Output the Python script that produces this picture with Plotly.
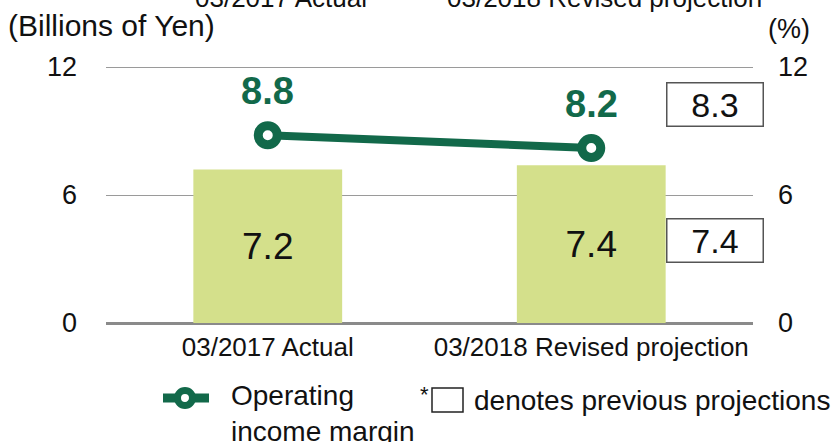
import plotly.graph_objects as go

categories = ["03/2017 Actual", "03/2018 Revised projection"]
operating_income = [7.2, 7.4]          # Billions of Yen
operating_margin = [8.8, 8.2]          # %
prev_income = 7.4                       # previous projection (Billions of Yen)
prev_margin = 8.3                       # previous projection (%)
y_ticks = [0, 6, 12]

GREEN = "#12694a"
BAR = "#d4e08b"
FONT = "Liberation Sans, Arial, sans-serif"
INK = "#111111"

L, R, T, B, W, H = 106, 81, 64, 119, 834, 442
PW, PH = W - L - R, H - T - B
Y_TOP = 12 * PH / 256  # keep 256 px per 12 units, leave room so the 12 gridline shows


def px(x):
    return (x - L) / PW


def py(y):
    return (H - B - y) / PH


fig = go.Figure()
fig.add_trace(go.Bar(
    x=categories, y=operating_income, width=0.46,
    marker=dict(color=BAR, line=dict(width=0)),
    text=[f"{v:.1f}" for v in operating_income],
    textposition="inside", insidetextanchor="middle",
    textfont=dict(size=37, color=INK, family=FONT),
    showlegend=False, hoverinfo="skip",
))
fig.add_trace(go.Scatter(
    x=categories, y=operating_margin, yaxis="y2",
    mode="lines+markers", name="Operating income margin",
    line=dict(color=GREEN, width=8),
    marker=dict(size=19, color="white", line=dict(color=GREEN, width=9)),
    showlegend=False,
))

annotations = []
for c, v in zip(categories, operating_margin):
    annotations.append(dict(x=c, y=v, yref="y2", text=f"<b>{v:.1f}</b>", showarrow=False,
                            xanchor="center", yanchor="middle",
                            yshift=44, font=dict(size=38, color=GREEN, family=FONT)))
# previous projection boxes
for val, yc in [(prev_margin, 104), (prev_income, 240)]:
    annotations.append(dict(x=px(715), xref="paper", y=py(yc), yref="paper", text=f"{val:.1f}",
                            xanchor="center", yanchor="middle",
                            showarrow=False, width=93, height=40, bordercolor="#555555",
                            borderwidth=1.5, borderpad=1, bgcolor="white",
                            font=dict(size=34, color=INK, family=FONT)))
# axis titles
annotations.append(dict(x=px(6), xref="paper", y=py(25), yref="paper", text="(Billions of Yen)",
                        showarrow=False, xanchor="left", yanchor="middle",
                        font=dict(size=30, color=INK, family=FONT)))
annotations.append(dict(x=px(789), xref="paper", y=py(29), yref="paper", text="(%)", showarrow=False,
                        xanchor="center", yanchor="middle", font=dict(size=27, color=INK, family=FONT)))
# clipped header labels at the very top
for c, xc in zip(categories, [281, 604]):
    annotations.append(dict(x=px(xc), xref="paper", y=py(15), yref="paper", text=c, showarrow=False,
                            xanchor="center", yanchor="bottom",
                            font=dict(size=26, color=INK, family=FONT)))
# legend text
annotations.append(dict(x=px(229), xref="paper", y=py(378), yref="paper",
                        text="Operating<br>income margin", showarrow=False, xanchor="left",
                        yanchor="top", align="left", font=dict(size=28, color=INK, family=FONT)))
# note
annotations.append(dict(x=px(418), xref="paper", y=py(394), yref="paper",
                        text="*", showarrow=False, xanchor="left", yanchor="middle",
                        font=dict(size=22, color=INK, family=FONT)))
annotations.append(dict(x=px(472), xref="paper", y=py(400), yref="paper",
                        text="denotes previous projections", showarrow=False, xanchor="left",
                        yanchor="middle", font=dict(size=28, color=INK, family=FONT)))

shapes = [
    dict(type="rect", xref="paper", yref="paper", x0=px(432), x1=px(463), y0=py(412), y1=py(388),
         line=dict(color="#222222", width=1.5), fillcolor="white"),
    dict(type="line", xref="paper", yref="paper", x0=px(163), x1=px(209), y0=py(398), y1=py(398),
         line=dict(color=GREEN, width=9)),
    dict(type="circle", xref="paper", yref="paper", x0=px(185 - 7.5), x1=px(185 + 7.5),
         y0=py(398 + 7.5), y1=py(398 - 7.5), line=dict(color=GREEN, width=7), fillcolor="white"),
]

fig.update_layout(
    width=W, height=H,
    margin=dict(l=L, r=R, t=T, b=B, autoexpand=False),
    paper_bgcolor="white", plot_bgcolor="white",
    font=dict(family=FONT, size=26, color=INK),
    xaxis=dict(type="category", showgrid=False, showline=False, ticks="",
               tickfont=dict(size=26), ticklabelstandoff=6),
    yaxis=dict(range=[0, Y_TOP], tickvals=y_ticks, showgrid=True, gridcolor="#9a9a9a", gridwidth=1,
               zeroline=True, zerolinecolor="#8a8a8a", zerolinewidth=3, showline=False,
               tickfont=dict(size=27), ticklabelstandoff=28),
    yaxis2=dict(range=[0, Y_TOP], tickvals=y_ticks, overlaying="y", side="right", showgrid=False,
                zeroline=False, showline=False, tickfont=dict(size=27), ticklabelstandoff=24),
    showlegend=False,
    annotations=annotations, shapes=shapes,
)
fig.write_html("out.html", config={"displayModeBar": False},
               post_script="document.body.style.margin='0';document.body.style.overflow='hidden';")
